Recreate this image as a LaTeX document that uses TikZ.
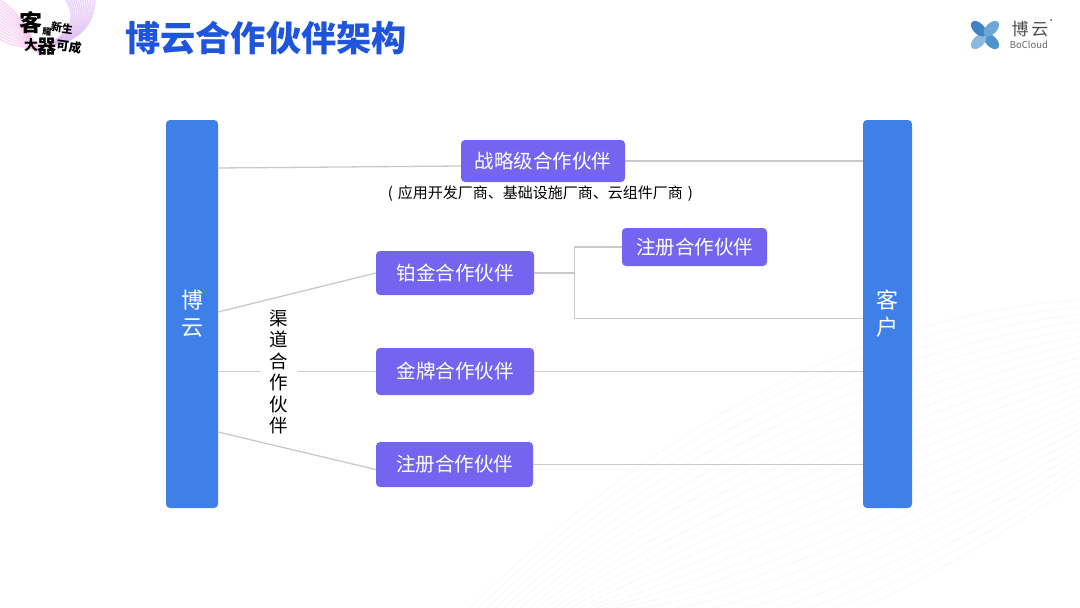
\documentclass[tikz,border=0pt]{standalone}
\usepackage{fontspec}
\setmainfont{Noto Sans CJK SC}
\usetikzlibrary{calc}
\definecolor{barblue}{HTML}{3F80E8}
\definecolor{partner}{HTML}{7465F0}
\definecolor{titleblue}{HTML}{1F55DC}
\definecolor{linegray}{HTML}{C9C9C9}
\definecolor{swirl}{HTML}{F8F6FC}
\definecolor{brush}{HTML}{D9B0F0}
\definecolor{brushpink}{HTML}{F2B8EC}
\definecolor{petala}{HTML}{4F93CE}
\definecolor{petalb}{HTML}{8CB9E2}
\definecolor{petalc}{HTML}{3F83C2}
\definecolor{petald}{HTML}{6FA6D8}
\tikzset{
    bar/.style={fill=barblue,rounded corners=4pt,text=white,font=\fontsize{22}{27}\selectfont,align=center,inner sep=0pt},
    partnerbox/.style={fill=partner,rounded corners=4pt,text=white,font=\fontsize{19.5}{23}\selectfont,inner sep=0pt},
    link/.style={draw=linegray,line width=1.3pt},
    brushtext/.style={inner sep=0pt,font=\bfseries},
}
\begin{document}
\begin{tikzpicture}[x=1pt,y=-1pt]
    \useasboundingbox (0,0) rectangle (1080,608);
    % background swirl
    \foreach \r in {0,12,...,300}{
        \draw[swirl,line width=0.8pt] (1080,300+\r*0.6) .. controls (900,310+\r) and (680,400+\r) .. (470+\r*0.7,608);
    }
    % brush mark
    \foreach \a in {0,3,...,36}{
        \draw[brush,line width=1.5pt,opacity=0.55] (40+\a*0.5,48-\a*0.1) .. controls (64+\a*0.5,38) and (80+\a*0.4,22) .. (66+\a*0.8,0);
    }
    \foreach \a in {0,3,...,39}{
        \draw[brushpink,line width=1.5pt,opacity=0.55] (0,\a) .. controls (12,8+\a) and (24,18+\a*0.7) .. (40,56-\a*0.1);
    }
    \node[brushtext] (brush1) at (31,23) {\fontsize{23}{23}\selectfont 客};
    \node[brushtext,rotate=-8] (brush2) at (47,32) {\fontsize{9}{9}\selectfont 耀};
    \node[brushtext,rotate=-8] (brush3) at (62,28) {\fontsize{11}{11}\selectfont 新生};
    \node[brushtext] (brush4) at (31,45) {\fontsize{14}{14}\selectfont 大};
    \node[brushtext] (brush5) at (47,47) {\fontsize{19}{19}\selectfont 器};
    \node[brushtext,rotate=-8] (brush6) at (69,47) {\fontsize{12.5}{12.5}\selectfont 可成};
    % title and logo
    \node[text=titleblue,inner sep=0pt,font=\fontsize{35.2}{40}\selectfont\bfseries] (title) at (266,38) {博云合作伙伴架构};
    \foreach \a/\c in {45/petala,135/petalb,225/petalc,315/petald}{
        \fill[\c] (985,35) ++(\a:9) ellipse[x radius=9.5,y radius=5.5,rotate=-\a];
    }
    \node[text=black!70,inner sep=0pt,font=\fontsize{17}{17}\selectfont] (logocn) at (1030,29) {博\,云};
    \node[text=black!60,inner sep=0pt,font=\fontsize{9.5}{10}\selectfont] (logoen) at (1029,45) {BoCloud};
    \fill[black!70] (1051,20) circle (1);
    % bars
    \node[bar,minimum width=52pt,minimum height=388pt] (by) at (192,314) {博\\云};
    \node[bar,minimum width=49pt,minimum height=388pt] (kh) at (887.5,314) {客\\户};
    % partners
    \node[partnerbox,minimum width=164pt,minimum height=42pt] (zl) at (543,161) {战略级合作伙伴};
    \node[partnerbox,minimum width=158pt,minimum height=44pt] (bj) at (455,273) {铂金合作伙伴};
    \node[partnerbox,minimum width=145pt,minimum height=38pt] (zc1) at (694.5,247) {注册合作伙伴};
    \node[partnerbox,minimum width=158pt,minimum height=47pt] (jp) at (455,371.5) {金牌合作伙伴};
    \node[partnerbox,minimum width=157pt,minimum height=45pt] (zc2) at (454.5,464.5) {注册合作伙伴};
    \node[inner sep=0pt,font=\fontsize{15}{17}\selectfont] (zlnote) at (540.5,193.5) {(\hspace{5pt}应用开发厂商、基础设施厂商、云组件厂商\hspace{5pt})};
    % free ends on the bars
    \coordinate (by1) at (218,168);
    \coordinate (by2) at (218,312);
    \coordinate (by3) at (218,371.5);
    \coordinate (by4) at (218,432);
    \coordinate (fork) at (574.5,273);
    \draw[link] (by1) -- ($(zl.west)+(0,5)$);
    \draw[link] (by2) -- (bj.west);
    \draw[link] (by3) -- (jp.west);
    \draw[link] (by4) -- ($(zc2.west)+(0,5)$);
    \draw[link] (zl.east) -- (kh.west |- zl.east);
    \draw[link] (bj.east) -- (fork);
    \draw[link] (fork) |- (zc1.west);
    \draw[link] (fork) |- (kh.west |- 0,318.5);
    \draw[link] (jp.east) -- (kh.west |- jp.east);
    \draw[link] (zc2.east) -- (kh.west |- zc2.east);
    \node[fill=white,align=center,inner xsep=9.5pt,inner ysep=0pt,font=\fontsize{18.5}{21.4}\selectfont] (qd) at (279,372) {渠\\道\\合\\作\\伙\\伴};
\end{tikzpicture}
\end{document}
